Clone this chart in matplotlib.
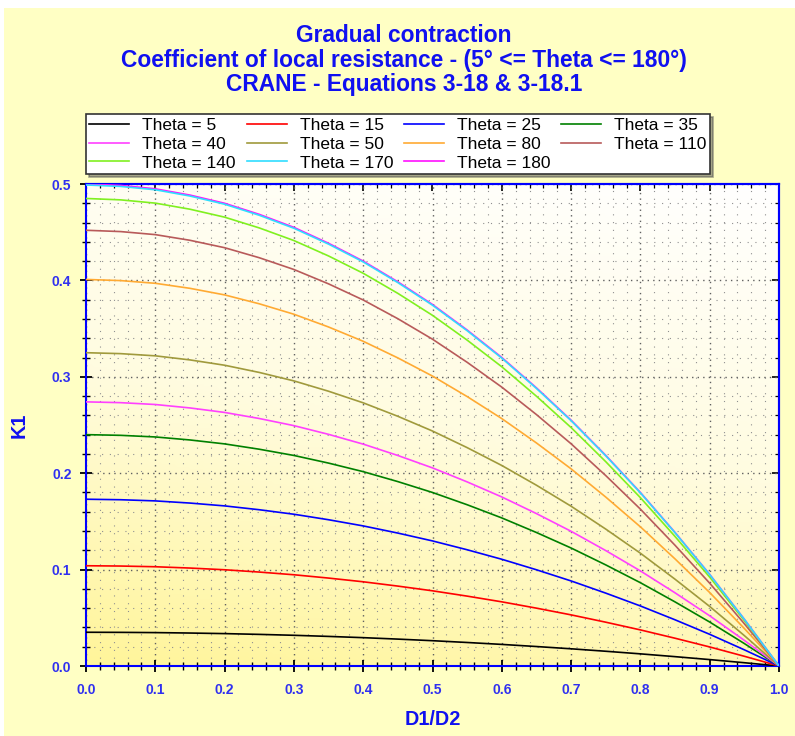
import matplotlib

matplotlib.use("Agg")
import matplotlib.pyplot as plt
import numpy as np
from matplotlib.colors import LinearSegmentedColormap
from matplotlib.patches import Rectangle
from matplotlib.ticker import MultipleLocator

# Included angle of each curve (degrees)
thetas = [5, 15, 25, 35, 40, 50, 80, 110, 140, 170, 180]
# K1 read at D1/D2 = 0 for each curve
k1_at_zero = [0.035, 0.104, 0.173, 0.240, 0.274, 0.325, 0.401, 0.452, 0.485, 0.499, 0.500]
line_colors = ["#000000", "#FF0000", "#0000FF", "#008000", "#FF40FF", "#A09A3C",
               "#FFAA33", "#B85A5A", "#80F020", "#30DDFF", "#FF10FF"]

# D1/D2 sample points and the fraction of K1 left at each one
d_ratio = [0.00, 0.05, 0.10, 0.15, 0.20, 0.25, 0.30, 0.35, 0.40, 0.45, 0.50,
           0.55, 0.60, 0.65, 0.70, 0.75, 0.80, 0.85, 0.90, 0.95, 1.00]
k1_fraction = [1.000, 0.997, 0.990, 0.977, 0.960, 0.937, 0.910, 0.877, 0.840, 0.797, 0.750,
               0.697, 0.640, 0.577, 0.510, 0.437, 0.360, 0.277, 0.190, 0.097, 0.000]

x_ticks = [0.0, 0.1, 0.2, 0.3, 0.4, 0.5, 0.6, 0.7, 0.8, 0.9, 1.0]
y_ticks = [0.0, 0.1, 0.2, 0.3, 0.4, 0.5]

title_lines = [
    "Gradual contraction",
    "Coefficient of local resistance - (5° <= Theta <= 180°)",
    "CRANE - Equations 3-18 & 3-18.1",
]

W, H = 795, 736
BLUE = "#1010F0"
TICK_BLUE = "#3030F0"
LEGEND_COLS = 4


def style_axes(ax):
    ax.set_xlim(0, 1)
    ax.set_ylim(0, 0.5)
    ax.set_xticks(x_ticks)
    ax.set_yticks(y_ticks)
    ax.xaxis.set_minor_locator(MultipleLocator(0.02))
    ax.yaxis.set_minor_locator(MultipleLocator(0.02))
    ax.set_xticklabels([f"{t:.1f}" for t in x_ticks])
    ax.set_yticklabels([f"{t:.1f}" for t in y_ticks])
    for sp in ax.spines.values():
        sp.set_color("#0000FF")
        sp.set_linewidth(1.5)
    ax.tick_params(which="major", direction="inout", length=9, width=1.3, color="black",
                   labelcolor=TICK_BLUE, labelsize=10, top=False, right=False)
    ax.tick_params(which="minor", direction="inout", length=6, width=1.0, color="black",
                   top=False, right=False)
    ax.tick_params(axis="x", which="major", pad=8)
    ax.tick_params(axis="y", which="major", pad=6)
    for lab in ax.get_xticklabels() + ax.get_yticklabels():
        lab.set_fontweight("bold")

    ax.grid(True, which="major", color="#606060", linestyle=(0, (1, 3)), linewidth=1.0)
    ax.grid(True, which="minor", color="#909090", linestyle=(0, (1, 6)), linewidth=0.8)
    ax.set_axisbelow(True)

    # inward ticks on the top and right edges
    top = ax.secondary_xaxis("top")
    top.set_xticks(x_ticks)
    top.xaxis.set_minor_locator(MultipleLocator(0.02))
    top.tick_params(which="major", direction="in", length=5, width=1.2, color="black",
                    labeltop=False)
    top.tick_params(which="minor", direction="in", length=3, width=0.9, color="black")
    top.spines["top"].set_color("#0000FF")
    top.spines["top"].set_linewidth(1.5)
    right = ax.secondary_yaxis("right")
    right.set_yticks(y_ticks)
    right.yaxis.set_minor_locator(MultipleLocator(0.02))
    right.tick_params(which="major", direction="in", length=5, width=1.2, color="black",
                      labelright=False)
    right.tick_params(which="minor", direction="in", length=3, width=0.9, color="black")
    right.spines["right"].set_color("#0000FF")
    right.spines["right"].set_linewidth(1.5)


def row_major_order(n, ncol):
    # matplotlib fills legend columns first; reorder so entries read across rows
    nrow = -(-n // ncol)
    order = []
    for c in range(ncol):
        for r in range(nrow):
            i = r * ncol + c
            if i < n:
                order.append(i)
    return order


def main():
    plt.rcParams["font.family"] = ["Liberation Sans", "DejaVu Sans"]
    fig = plt.figure(figsize=(W / 100, H / 100), dpi=100, facecolor="white")
    fig.patches.append(Rectangle((4 / W, 0), 1, 1 - 8 / H, transform=fig.transFigure,
                                 facecolor="#FFFFC4", edgecolor="none", zorder=-10))

    ax = fig.add_axes([86 / W, 1 - 666 / H, (779 - 86) / W, (666 - 184) / H])

    # plot area: pale yellow at the bottom fading to white at the top
    cmap = LinearSegmentedColormap.from_list("bg", ["#FFF59A", "#FFFCE0", "#FFFFFF"])
    gy, gx = np.mgrid[0:1:200j, 0:1:200j]
    ax.imshow(0.8 * gy + 0.2 * gx, extent=[0, 1, 0, 0.5], origin="lower", aspect="auto",
              cmap=cmap, zorder=0, vmin=0, vmax=1)

    x = np.array(d_ratio)
    frac = np.array(k1_fraction)
    handles = []
    for theta, k0, col in zip(thetas, k1_at_zero, line_colors):
        # the 170 curve sits on top of the 180 one in the original
        z = 3.5 if theta == 170 else 3
        (ln,) = ax.plot(x, k0 * frac, color=col, linewidth=1.2, label=f"Theta = {theta}",
                        zorder=z)
        handles.append(ln)

    style_axes(ax)

    ax.set_xlabel("D1/D2", color=BLUE, fontsize=14.3, fontweight="bold", labelpad=9)
    ax.set_ylabel("K1", color=BLUE, fontsize=14.3, fontweight="bold", labelpad=17)

    for i, line in enumerate(title_lines):
        fig.text(404 / W, 1 - (42 + 24.7 * i) / H, line, ha="center", va="baseline",
                 color=BLUE, fontsize=16.4, fontweight="bold")

    order = row_major_order(len(handles), LEGEND_COLS)
    leg = fig.legend([handles[i] for i in order], [handles[i].get_label() for i in order],
                     loc="upper left", bbox_to_anchor=(86 / W, 1 - 114 / H), ncol=LEGEND_COLS,
                     frameon=True, fancybox=False, shadow=True, fontsize=12.5,
                     handlelength=2.3, handletextpad=0.75, columnspacing=0.62,
                     labelspacing=0.22, borderpad=0.2, borderaxespad=0)
    leg.get_frame().set_edgecolor("#333333")
    leg.get_frame().set_linewidth(1.2)

    fig.savefig("out.png", dpi=100, facecolor=fig.get_facecolor())
    plt.close(fig)


if __name__ == "__main__":
    main()
